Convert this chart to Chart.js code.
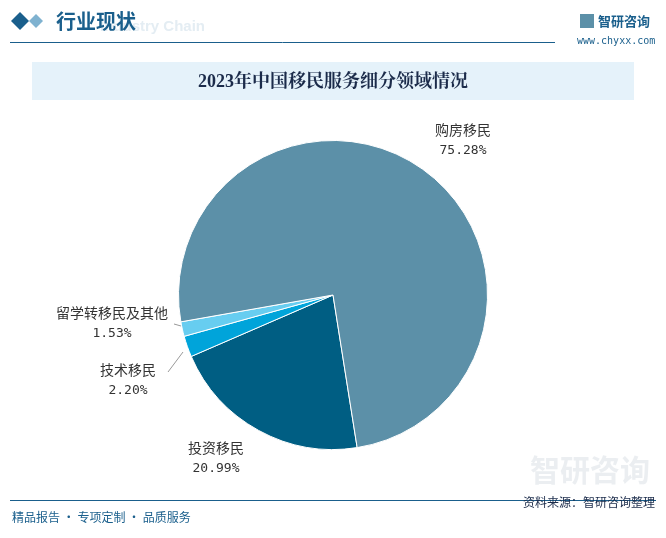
<!DOCTYPE html>
<html><head><meta charset="utf-8">
<script src="https://cdn.jsdelivr.net/npm/chart.js@4"></script>
<style>html,body{margin:0;padding:0;background:#fff}#w{width:666px;height:538px}</style>
</head><body><div id="w"><canvas id="c" width="666" height="538"></canvas></div>
<script>
const categories = ['投资移民','技术移民','留学转移民及其他','购房移民'];
const values = [20.99, 2.20, 1.53, 75.28];
const colors = ['#005e83','#00a4da','#67cdf0','#5c90a8'];
const labelPos = [[216,448],[128,370],[112,313],[463,130]];

const deco = {
  id:'deco',
  beforeDraw(ch){
    const c=ch.ctx; c.save();
    c.fillStyle='#1a5f8c';
    c.beginPath();c.moveTo(20,12);c.lineTo(29,21);c.lineTo(20,30);c.lineTo(11,21);c.closePath();c.fill();
    c.fillStyle='#7fb2d0';
    c.beginPath();c.moveTo(36,14);c.lineTo(43,21);c.lineTo(36,28);c.lineTo(29,21);c.closePath();c.fill();
    c.font='bold 15px Arial';c.fillStyle='#e4edf3';c.textBaseline='middle';c.textAlign='left';c.fillText('Industry Chain',100,27);
    c.font='bold 20px "Noto Sans CJK SC"';c.fillStyle='#1a5f8c';
    c.fillText('行业现状',56,21);
    c.strokeStyle='#1a5f8c';c.lineWidth=1;c.beginPath();c.moveTo(10,42.5);c.lineTo(555,42.5);c.stroke();
    c.font='bold 13px "Noto Sans CJK SC"';c.fillStyle='#1a5f8c';c.fillText('智研咨询',598,21);
    c.fillStyle='#5c90a8';c.fillRect(580,14,14,14);
    c.font='10px "DejaVu Sans Mono"';c.fillStyle='#1a5f8c';c.fillText('www.chyxx.com',577,41);
    c.fillStyle='#e5f2fa';c.fillRect(32,62,602,38);
    c.font='bold 18px "Liberation Serif","Noto Serif CJK SC","Noto Sans CJK SC"';c.fillStyle='#1b2b4a';c.textAlign='center';
    c.fillText('2023年中国移民服务细分领域情况',333,82);
    c.strokeStyle='#1a5f8c';c.beginPath();c.moveTo(10,500.5);c.lineTo(656,500.5);c.stroke();
    c.font='12px "Noto Sans CJK SC"';c.fillStyle='#1a5f8c';c.textAlign='left';
    c.fillText('精品报告 · 专项定制 · 品质服务',12,517);
    c.font='bold 30px "Noto Sans CJK SC"';c.fillStyle='rgba(120,140,160,0.15)';c.textAlign='right';c.fillText('智研咨询',650,470);
    c.font='12px "Noto Sans CJK SC"';c.fillStyle='#1b2b4a';c.fillText('资料来源：智研咨询整理',655,502);
    c.restore();
  },
  afterDraw(ch){
    const c=ch.ctx;c.save();c.textAlign='center';c.textBaseline='middle';
    categories.forEach((n,i)=>{
      const [x,y]=labelPos[i];
      c.font='14px "Noto Sans CJK SC"';c.fillStyle='#333';c.fillText(n,x,y);
      c.font='13px "DejaVu Sans Mono"';c.fillText(values[i].toFixed(2)+'%',x,y+21);
    });
    c.strokeStyle='#999';c.lineWidth=1;
    c.beginPath();c.moveTo(168,372);c.lineTo(183,352);c.stroke();
    c.beginPath();c.moveTo(174,324);c.lineTo(181,326);c.stroke();
    c.restore();
  }
};
new Chart(document.getElementById('c'),{
  type:'pie',
  data:{labels:categories,datasets:[{data:values,backgroundColor:colors,borderColor:'#fff',borderWidth:1}]},
  options:{responsive:false,animation:false,rotation:171,
    layout:{padding:{left:178,right:178,top:140,bottom:88}},
    plugins:{legend:{display:false},tooltip:{enabled:false}}},
  plugins:[deco]
});
</script></body></html>
